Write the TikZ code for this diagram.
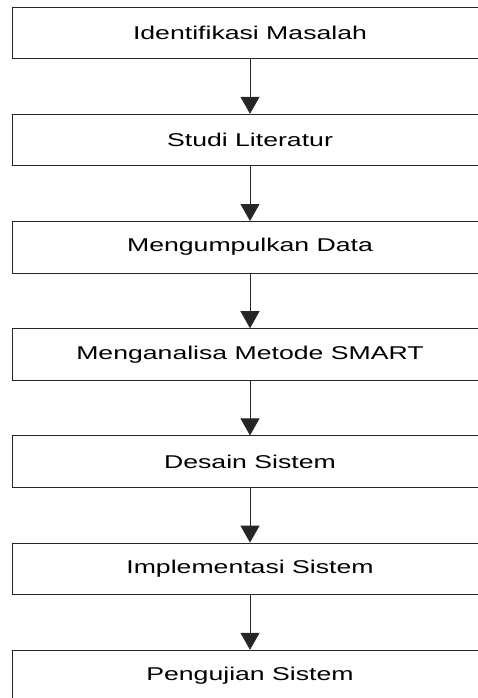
\documentclass[tikz,border=0pt]{standalone}
\usepackage{fontspec}
\usepackage{graphicx}
\setmainfont{Liberation Sans}
\usetikzlibrary{arrows.meta}
% labels are set in a wide, horizontally stretched face
\newcommand{\widelabel}[1]{\scalebox{1.44}[1]{#1}}
\begin{document}
\begin{tikzpicture}[x=1pt,y=-1pt,
  stage/.style={draw=black!85, line width=0.8pt, fill=white,
    minimum width=476pt, minimum height=51.5pt, inner sep=0pt,
    font=\fontsize{18.5pt}{21pt}\selectfont},
  flow/.style={draw=black!85, line width=0.8pt,
    -{Triangle[width=19pt,length=17pt]}}]
  \clip (0,0) rectangle (478,698);
  \fill[white] (0,0) rectangle (478,698);
  \node[stage] (s1) at (250,32.75)  {\widelabel{Identifikasi Masalah}};
  \node[stage] (s2) at (250,139.95) {\widelabel{Studi Literatur}};
  \node[stage] (s3) at (250,247.15) {\widelabel{Mengumpulkan Data}};
  \node[stage] (s4) at (250,354.35) {\widelabel{Menganalisa Metode SMART}};
  \node[stage] (s5) at (250,461.55) {\widelabel{Desain Sistem}};
  \node[stage] (s6) at (250,568.75) {\widelabel{Implementasi Sistem}};
  \node[stage] (s7) at (250,675.95) {\widelabel{Pengujian Sistem}};
  \foreach \a/\b in {s1/s2,s2/s3,s3/s4,s4/s5,s5/s6,s6/s7}
    \draw[flow] (\a.south) -- (\b.north);
\end{tikzpicture}
\end{document}
